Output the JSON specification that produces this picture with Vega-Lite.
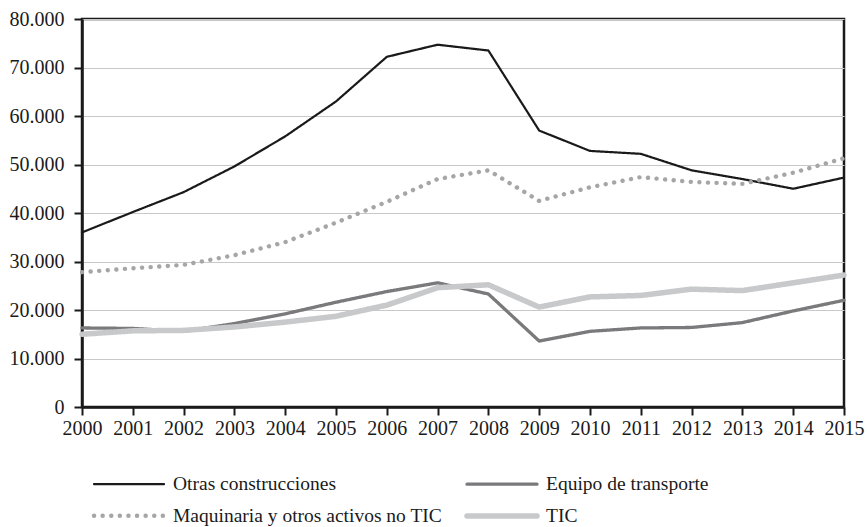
{
  "$schema": "https://vega.github.io/schema/vega-lite/v6.json",
  "width": 762,
  "height": 388,
  "autosize": "none",
  "padding": {"left": 82, "top": 19, "right": 23, "bottom": 120},
  "background": "white",
  "config": {
    "font": "Liberation Serif",
    "view": {"stroke": "#1a1a1a", "strokeWidth": 2.5},
    "axis": {"labelFont": "Liberation Serif", "labelFontSize": 20, "labelColor": "#1a1a1a", "domainColor": "#1a1a1a", "tickColor": "#1a1a1a", "domainWidth": 2.5, "tickWidth": 2, "tickSize": 8, "title": null},
    "legend": {"labelFont": "Liberation Serif", "labelFontSize": 19.5, "labelColor": "#1a1a1a"}
  },
  "data": {"values": [
    {"year": 2000, "serie": "Otras construcciones", "v": 36000},
    {"year": 2001, "serie": "Otras construcciones", "v": 40200},
    {"year": 2002, "serie": "Otras construcciones", "v": 44300},
    {"year": 2003, "serie": "Otras construcciones", "v": 49600},
    {"year": 2004, "serie": "Otras construcciones", "v": 55800},
    {"year": 2005, "serie": "Otras construcciones", "v": 63000},
    {"year": 2006, "serie": "Otras construcciones", "v": 72200},
    {"year": 2007, "serie": "Otras construcciones", "v": 74700},
    {"year": 2008, "serie": "Otras construcciones", "v": 73500},
    {"year": 2009, "serie": "Otras construcciones", "v": 57000},
    {"year": 2010, "serie": "Otras construcciones", "v": 52800},
    {"year": 2011, "serie": "Otras construcciones", "v": 52200},
    {"year": 2012, "serie": "Otras construcciones", "v": 48800},
    {"year": 2013, "serie": "Otras construcciones", "v": 47000},
    {"year": 2014, "serie": "Otras construcciones", "v": 45000},
    {"year": 2015, "serie": "Otras construcciones", "v": 47300},
    {"year": 2000, "serie": "Maquinaria y otros activos no TIC", "v": 27800},
    {"year": 2001, "serie": "Maquinaria y otros activos no TIC", "v": 28600},
    {"year": 2002, "serie": "Maquinaria y otros activos no TIC", "v": 29300},
    {"year": 2003, "serie": "Maquinaria y otros activos no TIC", "v": 31300},
    {"year": 2004, "serie": "Maquinaria y otros activos no TIC", "v": 34000},
    {"year": 2005, "serie": "Maquinaria y otros activos no TIC", "v": 38000},
    {"year": 2006, "serie": "Maquinaria y otros activos no TIC", "v": 42300},
    {"year": 2007, "serie": "Maquinaria y otros activos no TIC", "v": 47000},
    {"year": 2008, "serie": "Maquinaria y otros activos no TIC", "v": 48800},
    {"year": 2009, "serie": "Maquinaria y otros activos no TIC", "v": 42500},
    {"year": 2010, "serie": "Maquinaria y otros activos no TIC", "v": 45300},
    {"year": 2011, "serie": "Maquinaria y otros activos no TIC", "v": 47400},
    {"year": 2012, "serie": "Maquinaria y otros activos no TIC", "v": 46400},
    {"year": 2013, "serie": "Maquinaria y otros activos no TIC", "v": 46000},
    {"year": 2014, "serie": "Maquinaria y otros activos no TIC", "v": 48300},
    {"year": 2015, "serie": "Maquinaria y otros activos no TIC", "v": 51300},
    {"year": 2000, "serie": "Equipo de transporte", "v": 16300},
    {"year": 2001, "serie": "Equipo de transporte", "v": 16200},
    {"year": 2002, "serie": "Equipo de transporte", "v": 15600},
    {"year": 2003, "serie": "Equipo de transporte", "v": 17200},
    {"year": 2004, "serie": "Equipo de transporte", "v": 19200},
    {"year": 2005, "serie": "Equipo de transporte", "v": 21600},
    {"year": 2006, "serie": "Equipo de transporte", "v": 23800},
    {"year": 2007, "serie": "Equipo de transporte", "v": 25600},
    {"year": 2008, "serie": "Equipo de transporte", "v": 23300},
    {"year": 2009, "serie": "Equipo de transporte", "v": 13600},
    {"year": 2010, "serie": "Equipo de transporte", "v": 15600},
    {"year": 2011, "serie": "Equipo de transporte", "v": 16300},
    {"year": 2012, "serie": "Equipo de transporte", "v": 16400},
    {"year": 2013, "serie": "Equipo de transporte", "v": 17400},
    {"year": 2014, "serie": "Equipo de transporte", "v": 19800},
    {"year": 2015, "serie": "Equipo de transporte", "v": 22000},
    {"year": 2000, "serie": "TIC", "v": 15000},
    {"year": 2001, "serie": "TIC", "v": 15700},
    {"year": 2002, "serie": "TIC", "v": 15800},
    {"year": 2003, "serie": "TIC", "v": 16500},
    {"year": 2004, "serie": "TIC", "v": 17500},
    {"year": 2005, "serie": "TIC", "v": 18700},
    {"year": 2006, "serie": "TIC", "v": 21000},
    {"year": 2007, "serie": "TIC", "v": 24600},
    {"year": 2008, "serie": "TIC", "v": 25200},
    {"year": 2009, "serie": "TIC", "v": 20600},
    {"year": 2010, "serie": "TIC", "v": 22700},
    {"year": 2011, "serie": "TIC", "v": 23000},
    {"year": 2012, "serie": "TIC", "v": 24300},
    {"year": 2013, "serie": "TIC", "v": 24000},
    {"year": 2014, "serie": "TIC", "v": 25600},
    {"year": 2015, "serie": "TIC", "v": 27200}
  ]},
  "mark": {"type": "line", "strokeCap": "round", "strokeJoin": "round"},
  "encoding": {
    "x": {"field": "year", "type": "quantitative", "scale": {"domain": [2000, 2015], "nice": false, "zero": false},
      "axis": {"values": [2000,2001,2002,2003,2004,2005,2006,2007,2008,2009,2010,2011,2012,2013,2014,2015], "format": "d", "grid": false, "labelPadding": 3, "labelFlush": false}},
    "y": {"field": "v", "type": "quantitative", "scale": {"domain": [0, 80000], "nice": false},
      "axis": {"values": [0,10000,20000,30000,40000,50000,60000,70000,80000], "labelExpr": "replace(format(datum.value, ','), ',', '.')", "grid": true, "gridColor": "#c8c8c8", "gridWidth": 1.2, "labelPadding": 10}},
    "color": {"field": "serie", "type": "nominal",
      "scale": {"domain": ["Otras construcciones", "Equipo de transporte", "Maquinaria y otros activos no TIC", "TIC"], "range": ["#1a1a1a", "#7a7a7c", "#a6a6a8", "#c8c9cb"]},
      "legend": {"title": null, "orient": "none", "legendX": 37, "legendY": 455, "direction": "horizontal", "columns": 2, "symbolType": "M-5,0H5", "symbolSize": 196, "labelOffset": 34, "columnPadding": 13, "rowPadding": 11, "labelLimit": 400,
        "encode": {"symbols": {"update": {"strokeCap": {"value": "round"}}}}}},
    "strokeDash": {"field": "serie", "type": "nominal",
      "scale": {"domain": ["Otras construcciones", "Equipo de transporte", "Maquinaria y otros activos no TIC", "TIC"], "range": [[1,0], [1,0], [0.1,8.5], [1,0]]}},
    "strokeWidth": {"field": "serie", "type": "nominal",
      "scale": {"domain": ["Otras construcciones", "Equipo de transporte", "Maquinaria y otros activos no TIC", "TIC"], "range": [2.2, 5.5, 2.8, 5.5]}},
    "order": {"field": "serie"}
  }
}
